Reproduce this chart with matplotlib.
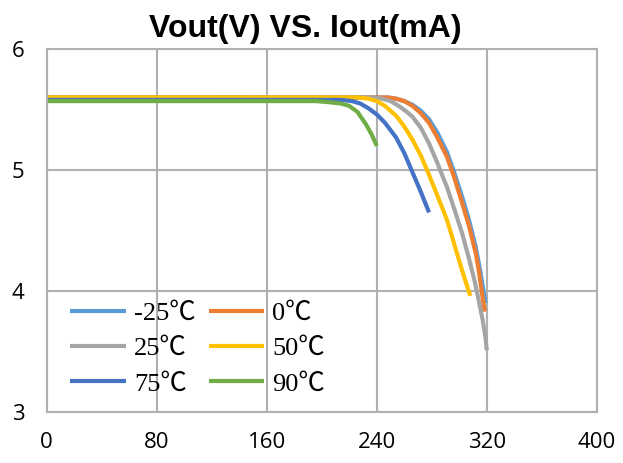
import numpy as np
import matplotlib.pyplot as plt

# data (Iout in mA, Vout in V)
i_m25 = [0, 80, 160, 240, 248, 254, 260, 266, 272, 278, 284, 291, 296, 302, 307, 312, 315, 317, 319]
v_m25 = [5.60, 5.60, 5.60, 5.60, 5.60, 5.59, 5.57, 5.54, 5.49, 5.42, 5.31, 5.15, 4.99, 4.78, 4.59, 4.36, 4.18, 4.04, 3.90]

i_0 = [0, 80, 160, 240, 248, 254, 260, 266, 272, 278, 284, 291, 296, 302, 307, 312, 314, 316, 318.5]
v_0 = [5.60, 5.60, 5.60, 5.60, 5.60, 5.59, 5.57, 5.53, 5.47, 5.39, 5.27, 5.11, 4.95, 4.73, 4.54, 4.31, 4.18, 4.02, 3.83]

i_25 = [0, 80, 160, 236, 244, 250, 256, 262, 266, 272, 278, 284, 291, 296, 302, 307, 311, 314, 317, 319, 320]
v_25 = [5.59, 5.59, 5.60, 5.60, 5.59, 5.57, 5.53, 5.48, 5.44, 5.35, 5.22, 5.06, 4.86, 4.69, 4.48, 4.27, 4.09, 3.93, 3.76, 3.62, 3.51]

i_50 = [0, 80, 160, 226, 234, 240, 246, 254, 260, 266, 272, 278, 284, 291, 296, 302, 306, 308]
v_50 = [5.60, 5.60, 5.60, 5.60, 5.59, 5.57, 5.53, 5.45, 5.36, 5.25, 5.12, 4.96, 4.79, 4.59, 4.40, 4.17, 4.03, 3.96]

i_75 = [0, 80, 160, 214, 222, 228, 234, 240, 246, 254, 260, 266, 272, 278]
v_75 = [5.58, 5.58, 5.58, 5.58, 5.57, 5.55, 5.51, 5.46, 5.39, 5.27, 5.14, 4.98, 4.82, 4.65]

i_90 = [0, 80, 160, 196, 206, 214, 220, 226, 232, 236, 240]
v_90 = [5.57, 5.57, 5.57, 5.57, 5.56, 5.55, 5.53, 5.48, 5.38, 5.30, 5.20]

labels = ['-25\u2103', '0\u2103', '25\u2103', '50\u2103', '75\u2103', '90\u2103']
colors = ['#5B9BD5', '#ED7D31', '#A5A5A5', '#FFC000', '#4472C4', '#70AD47']
series = [(i_m25, v_m25), (i_0, v_0), (i_25, v_25), (i_50, v_50), (i_75, v_75), (i_90, v_90)]

fig = plt.figure(figsize=(6.23, 4.63), dpi=100)
ax = fig.add_axes([0.075, 0.11, 0.883, 0.784])

lines = []
for (x, y), lab, c in zip(series, labels, colors):
    ln, = ax.plot(x, y, color=c, linewidth=3, label=lab, solid_capstyle='butt')
    lines.append(ln)

ax.set_xlim(0, 400)
ax.set_ylim(3, 6)
ax.set_xticks([0, 80, 160, 240, 320, 400])
ax.set_yticks([3, 4, 5, 6])
ax.grid(True, color='#B0B0B0', linewidth=1.5)
ax.set_axisbelow(True)
for s in ax.spines.values():
    s.set_color('#B0B0B0')
    s.set_linewidth(1.5)
ax.tick_params(length=0, labelsize=16, pad=14)
for t in ax.get_xticklabels() + ax.get_yticklabels():
    t.set_fontfamily('Open Sans')
ax.tick_params(axis='y', pad=16)

fig.text(0.49, 0.938, 'Vout(V) VS. Iout(mA)', ha='center', va='center',
         fontsize=23, fontweight='bold', family='Liberation Sans')

# row-wise legend order like the reference
order = [0, 2, 4, 1, 3, 5]
ax.legend([lines[k] for k in order], [labels[k] for k in order], ncol=2,
          loc='lower left', bbox_to_anchor=(0.0, -0.02), frameon=False,
          prop={'family': ['Liberation Serif', 'Noto Sans CJK SC'], 'size': 19},
          handlelength=2.1, handletextpad=0.3, columnspacing=0.5,
          labelspacing=0.45)

plt.savefig('out.png', dpi=100)
